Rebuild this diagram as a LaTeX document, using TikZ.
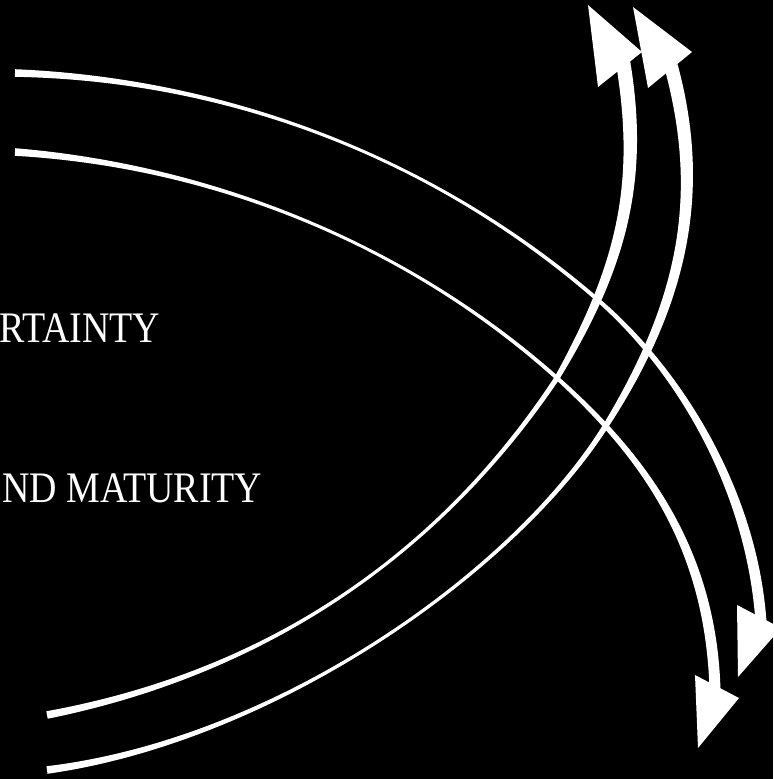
\documentclass[tikz,border=0pt]{standalone}
\usepackage{fontspec}
\setmainfont{Liberation Serif}[FakeStretch=0.87]
\usetikzlibrary{calc}

% tapered band along a cubic: #1..#4 points, #5..#8 half widths
\newcommand{\taper}[8]{%
  \fill[shaft] ($(#1)!#5!90:(#2)$)
    .. controls ($(#2)!#6!-90:(#1)$) and ($(#3)!#7!90:(#4)$) .. ($(#4)!#8!-90:(#3)$)
    -- ($(#4)!#8!90:(#3)$)
    .. controls ($(#3)!#7!-90:(#4)$) and ($(#2)!#6!90:(#1)$) .. ($(#1)!#5!-90:(#2)$)
    -- cycle;}

\begin{document}
\begin{tikzpicture}[x=0.1mm, y=-0.1mm,
  shaft/.style={fill=white},
  head/.style={fill=white},
  lbl/.style={text=white, font=\fontsize{12.4}{15}\selectfont, inner sep=0pt, anchor=base east}
]
\useasboundingbox (0,0) rectangle (773,779);
\fill[black] (0,0) rectangle (773,779);
\clip (0,0) rectangle (773,779);

\node[lbl] (unc) at (161,342) {RTAINTY};
\node[lbl] (mat) at (263,502) {ND MATURITY};

\coordinate (rise1a) at (47,715);
\coordinate (rise1m) at (557,378);
\coordinate (rise1b) at (623,62);
\coordinate (rise2a) at (47,770);
\coordinate (rise2m) at (605,427);
\coordinate (rise2b) at (671,66);
\coordinate (fall1a) at (15,73);
\coordinate (fall1m) at (598,300);
\coordinate (fall1b) at (761,622);
\coordinate (fall2a) at (15,152);
\coordinate (fall2m) at (557,378);
\coordinate (fall2b) at (715,690);

\taper{rise1a}{297,667}{458,527}{rise1m}{.38mm}{.12mm}{.14mm}{.26mm}
\taper{rise1m}{622,266}{643,182}{rise1b}{.26mm}{.55mm}{.72mm}{.72mm}
\taper{rise2a}{277,740}{514,571}{rise2m}{.38mm}{.12mm}{.14mm}{.28mm}
\taper{rise2m}{685,300}{705,192}{rise2b}{.28mm}{.55mm}{.68mm}{.68mm}
\taper{fall1a}{230,79.5}{435.7,159}{fall1m}{.38mm}{.12mm}{.13mm}{.2mm}
\taper{fall1m}{681,372}{752,492}{fall1b}{.2mm}{.3mm}{.55mm}{.55mm}
\taper{fall2a}{214,166}{408,245}{fall2m}{.38mm}{.12mm}{.13mm}{.2mm}
\taper{fall2m}{646,458}{711,550}{fall2b}{.2mm}{.3mm}{.55mm}{.55mm}

\fill[head] (588,5) -- (598,87) -- (642,52) -- cycle;
\fill[head] (633,7) -- (648,88) -- (692,52) -- cycle;
\fill[head] (698,748) -- (695,675) -- (739,698) -- cycle;
\fill[head] (738,677) -- (737,605) -- (781,628) -- cycle;
\end{tikzpicture}
\end{document}
